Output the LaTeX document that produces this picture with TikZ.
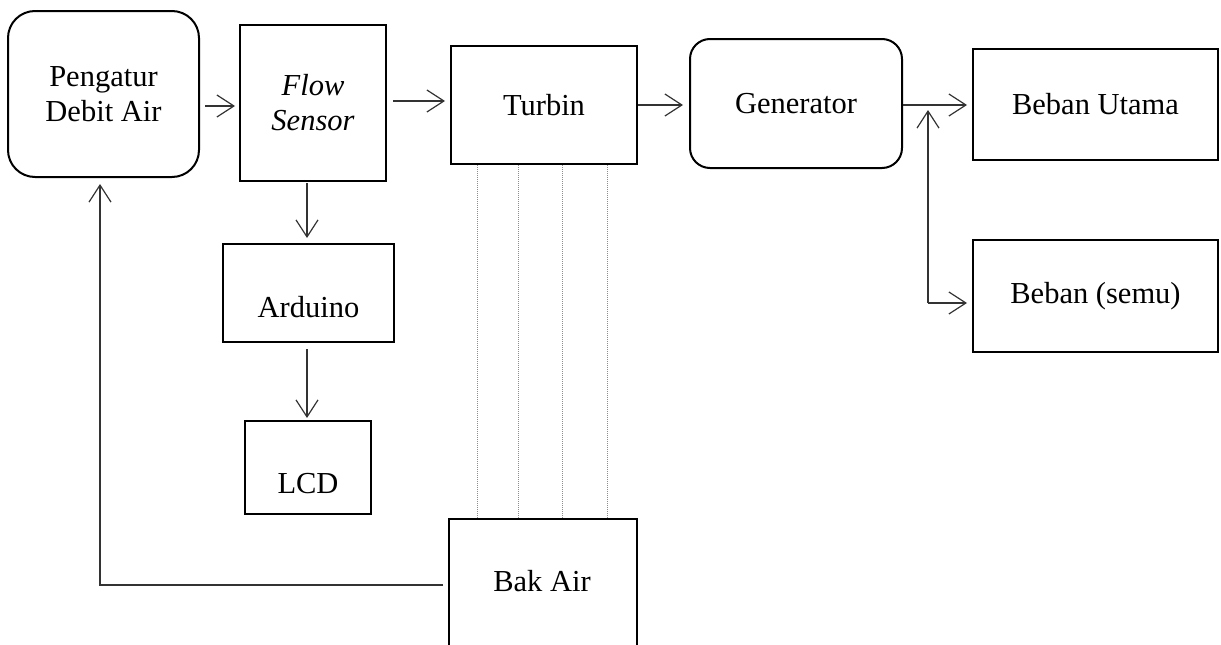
\documentclass[tikz,border=0pt]{standalone}
\usepackage{fontspec}
\setmainfont{Liberation Serif}
\usetikzlibrary{arrows.meta}
\begin{document}
\begin{tikzpicture}[x=1pt,y=-1pt,
  every node/.style={font=\fontsize{30.5}{35}\selectfont},
  box/.style={draw=black, line width=2pt, inner sep=0pt, align=center},
  rbox/.style={box, rounded corners=#1},
  txt/.style={inner sep=0pt},
  conn/.style={draw=black!80, line width=1.2pt},
  arr/.style={conn, -{Straight Barb[length=17pt,width=22pt,line width=1.2pt]}},
  dotl/.style={draw=black!45, line width=1pt, densely dotted}]
\useasboundingbox (0,0) rectangle (1221,645);
\clip (0,0) rectangle (1221,645);
% boxes
\node[rbox=27pt, minimum width=191pt, minimum height=166pt] (peng) at (103.5,94) {Pengatur\\Debit Air};
\node[box, minimum width=146pt, minimum height=156pt] (flow) at (313,103) {\itshape Flow\\\itshape Sensor};
\node[box, minimum width=186pt, minimum height=118pt] (turb) at (544,105) {Turbin};
\node[rbox=20pt, minimum width=212pt, minimum height=129pt] (gen) at (796,103.5) {Generator};
\node[box, minimum width=245pt, minimum height=111pt] (bu) at (1095.5,104.5) {Beban Utama};
\node[box, minimum width=245pt, minimum height=112pt] (bs) at (1095.5,296) {Beban (semu)};
\node[box, minimum width=171pt, minimum height=98pt] (ard) at (308.5,293) {};
\node[txt] (ardt) at (308.5,307) {Arduino};
\node[box, minimum width=126pt, minimum height=93pt] (lcd) at (308,467.5) {};
\node[txt] (lcdt) at (308,484) {LCD};
\node[box, minimum width=188pt, minimum height=181pt] (bak) at (543,609.5) {};
\node[txt] (bakt) at (542,581) {Bak Air};
% dotted links turbin - bak air
\foreach \xx in {477,518,562,607}
  \draw[dotl] (\xx,0 |- turb.south) -- (\xx,0 |- bak.north);
% connectors
\draw[arr] ([xshift=5pt]peng.east |- 0,106) -- ([xshift=-4pt]flow.west |- 0,106);
\draw[arr] ([xshift=6pt]flow.east |- 0,101) -- ([xshift=-5pt]turb.west |- 0,101);
\draw[arr] (turb.east) -- ([xshift=-6pt]gen.west |- turb.east);
\draw[arr] (gen.east |- 0,105) -- ([xshift=-5pt]bu.west |- 0,105);
\coordinate (jtop) at (928,110);
\coordinate (jbot) at (928,303);
\draw[arr] (jbot) -- (jtop);
\draw[arr] (jbot) -- ([xshift=-5pt]bs.west |- jbot);
\draw[arr] ([yshift=-1pt]flow.south -| 307,0) -- ([yshift=5pt]ard.north -| 307,0);
\draw[arr] ([yshift=-6pt]ard.south -| 307,0) -- ([yshift=2pt]lcd.north -| 307,0);
\draw[arr] ([xshift=-5pt]bak.west |- 0,585) -- (100,585) -- ([yshift=-6pt]peng.south -| 100,0);
\end{tikzpicture}
\end{document}
